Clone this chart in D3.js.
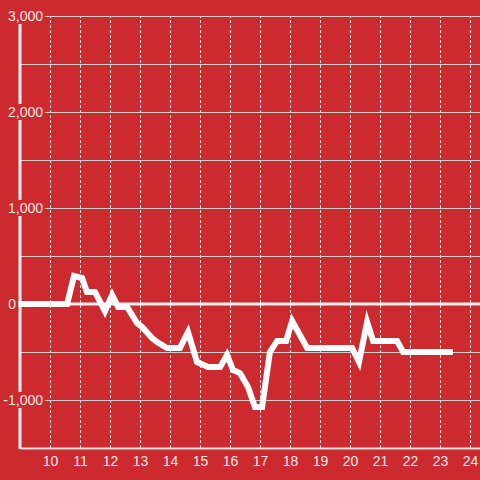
<!DOCTYPE html>
<html>
<head>
<meta charset="utf-8">
<script src="https://cdn.jsdelivr.net/npm/d3@7"></script>
<style>
  html, body { margin: 0; padding: 0; background: #cc2a2f; }
  svg { display: block; }
</style>
</head>
<body>
<svg id="chart" width="480" height="480"></svg>
<script>
// Hour of day and value at each vertex of the line
const hours = [8.85, 10.57, 10.8, 11.07, 11.23, 11.5, 11.83, 12.07, 12.27, 12.57,
  12.9, 13.07, 13.4, 13.57, 13.9, 14.33, 14.6, 14.9, 15.27, 15.67,
  15.9, 16.1, 16.33, 16.6, 16.83, 17.07, 17.33, 17.57, 17.87, 18.07,
  18.57, 20.07, 20.3, 20.57, 20.77, 21.57, 21.77, 23.43];
const values = [0, 0, 292, 271, 125, 125, -75, 94, -30, -30,
  -198, -240, -354, -396, -458, -458, -292, -604, -656, -656,
  -531, -688, -719, -865, -1073, -1073, -500, -385, -385, -177,
  -458, -458, -604, -188, -385, -385, -500, -500];

const xTicks = [10, 11, 12, 13, 14, 15, 16, 17, 18, 19, 20, 21, 22, 23, 24];
const yLabelTicks = [-1000, 0, 1000, 2000, 3000];
const yGridTicks = [-1000, -500, 500, 1000, 1500, 2000, 2500, 3000];

const width = 480, height = 480;
const plotLeft = 20, plotRight = 480, plotTop = 16, plotBottom = 448;
const bg = "#cc2a2f";
const font = "'Liberation Sans', Arial, sans-serif";

const data = hours.map((h, i) => ({ h: h, v: values[i] }));

const svg = d3.select("#chart");

svg.append("rect")
  .attr("width", width)
  .attr("height", height)
  .attr("fill", bg);

const x = d3.scaleLinear().domain([9, 24.333]).range([plotLeft, plotRight]);
const y = d3.scaleLinear().domain([-1500, 3000]).range([plotBottom, plotTop]);

// Vertical dashed grid
const vgrid = svg.append("g")
  .attr("transform", `translate(0,${plotBottom})`)
  .call(d3.axisBottom(x).tickValues(xTicks).tickSize(-(plotBottom - plotTop)).tickFormat(""));
vgrid.select(".domain").remove();
vgrid.selectAll("line")
  .attr("stroke", "#e2e2e2")
  .attr("stroke-width", 1)
  .attr("stroke-dasharray", "3,2");

// Horizontal grid
const hgrid = svg.append("g")
  .attr("transform", `translate(${plotLeft},0)`)
  .call(d3.axisLeft(y).tickValues(yGridTicks).tickSize(-(plotRight - plotLeft)).tickFormat(""));
hgrid.select(".domain").remove();
hgrid.selectAll("line")
  .attr("stroke", "#cfcfcf")
  .attr("stroke-width", 1);

// Zero line
svg.append("line")
  .attr("x1", plotLeft).attr("x2", plotRight)
  .attr("y1", y(0)).attr("y2", y(0))
  .attr("stroke", "#f0f0f0")
  .attr("stroke-width", 3);

// X axis
const xAxis = svg.append("g")
  .attr("transform", `translate(0,${plotBottom})`)
  .call(d3.axisBottom(x).tickValues(xTicks).tickSize(0).tickPadding(8).tickFormat(d3.format("d")));
xAxis.select(".domain")
  .attr("stroke", "#e0e0e0")
  .attr("stroke-width", 2);
xAxis.selectAll("text")
  .attr("fill", "#f3e9e9")
  .style("font-family", font)
  .style("font-size", "14px");

// Y axis line
svg.append("line")
  .attr("x1", plotLeft).attr("x2", plotLeft)
  .attr("y1", plotTop).attr("y2", plotBottom + 1)
  .attr("stroke", "#f5f5f5")
  .attr("stroke-width", 3);

// Data line
const line = d3.line()
  .x(d => x(d.h))
  .y(d => y(d.v));

svg.append("path")
  .datum(data)
  .attr("fill", "none")
  .attr("stroke", "#ffffff")
  .attr("stroke-width", 6)
  .attr("stroke-linejoin", "miter")
  .attr("d", line);

// Y labels with background boxes
const yAxis = svg.append("g")
  .attr("transform", "translate(45,0)")
  .call(d3.axisLeft(y).tickValues(yLabelTicks).tickSize(0).tickPadding(2)
    .tickFormat(d => d3.format(",")(d).replace("\u2212", "-")));
yAxis.select(".domain").remove();
yAxis.selectAll("text")
  .attr("fill", "#f3e9e9")
  .style("font-family", font)
  .style("font-size", "14px");
// the zero label sits left of the axis line
yAxis.selectAll(".tick").filter(d => d === 0).select("text")
  .attr("x", -29);
yAxis.selectAll(".tick").each(function() {
  const t = d3.select(this);
  const b = t.select("text").node().getBBox();
  t.insert("rect", "text")
    .attr("x", b.x - 2)
    .attr("y", b.y)
    .attr("width", b.width + 4)
    .attr("height", b.height)
    .attr("fill", bg);
});
</script>
</body>
</html>
